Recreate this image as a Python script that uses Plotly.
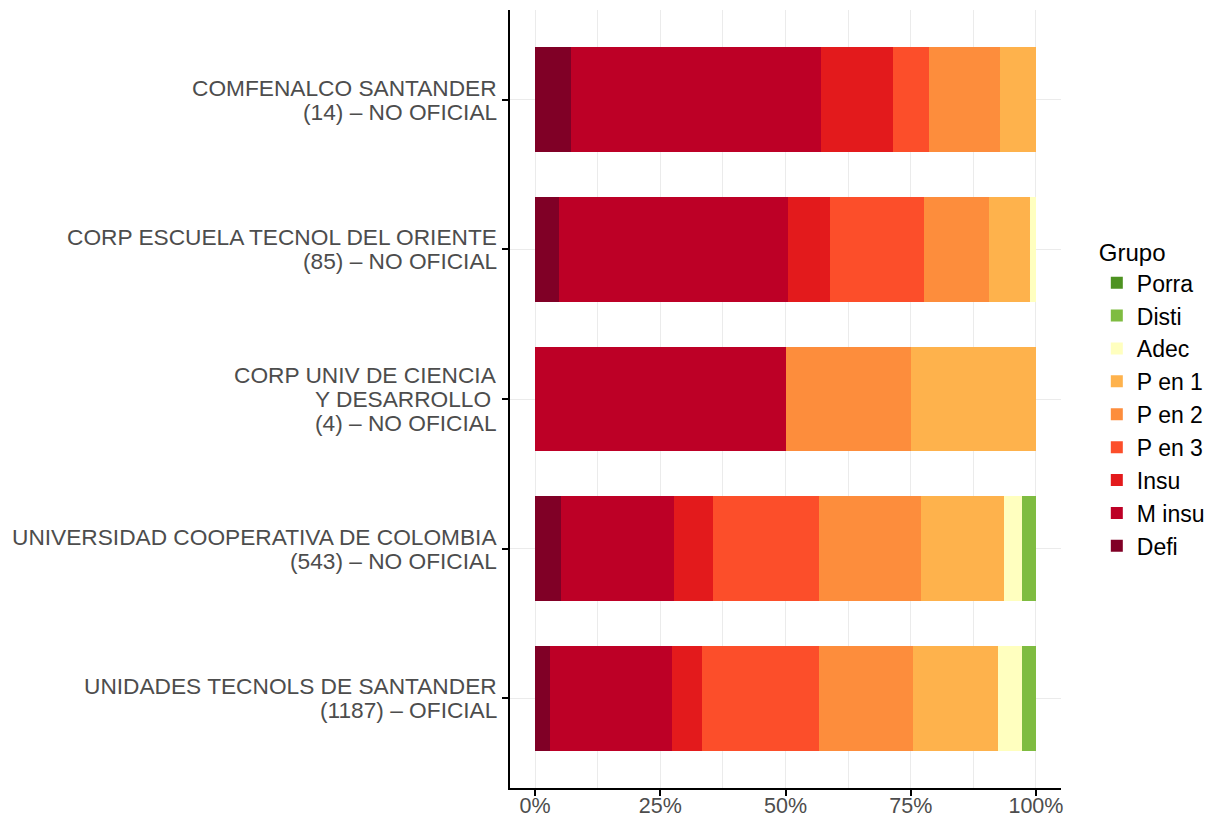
import plotly.graph_objects as go

categories = [
    "COMFENALCO SANTANDER<br>(14) – NO OFICIAL",
    "CORP ESCUELA TECNOL DEL ORIENTE<br>(85) – NO OFICIAL",
    "CORP UNIV DE CIENCIA<br>Y DESARROLLO\u00a0<br>(4) – NO OFICIAL",
    "UNIVERSIDAD COOPERATIVA DE COLOMBIA<br>(543) – NO OFICIAL",
    "UNIDADES TECNOLS DE SANTANDER<br>(1187) – OFICIAL",
]

groups = ["Defi", "M insu", "Insu", "P en 3", "P en 2", "P en 1", "Adec", "Disti", "Porra"]
colors = ["#800026", "#BD0026", "#E31A1C", "#FC4E2A", "#FD8D3C", "#FEB24C", "#FFFFBF", "#7FBC41", "#4D9221"]

# counts per group (same order as categories)
defi   = [1, 4, 0, 28, 36]
m_insu = [7, 39, 2, 123, 288]
insu   = [2, 7, 0, 42, 71]
p_en3  = [1, 16, 0, 115, 278]
p_en2  = [2, 11, 1, 110, 222]
p_en1  = [1, 7, 1, 90, 201]
adec   = [0, 1, 0, 20, 57]
disti  = [0, 0, 0, 15, 34]
porra  = [0, 0, 0, 0, 0]

x_tickvals = [0, 0.25, 0.5, 0.75, 1.0]
x_ticktext = ["0%", "25%", "50%", "75%", "100%"]

series = [defi, m_insu, insu, p_en3, p_en2, p_en1, adec, disti, porra]
totals = [sum(s[i] for s in series) for i in range(len(categories))]

fig = go.Figure()
for name, col, vals in zip(groups, colors, series):
    fig.add_trace(go.Bar(
        y=categories,
        x=[v / t for v, t in zip(vals, totals)],
        name=name,
        orientation="h",
        marker=dict(color=col, line=dict(width=0)),
        width=0.7,
    ))

font_family = "Liberation Sans, Arial, sans-serif"
axis_font = 22.7
line_gap = 24

# y category labels as annotations (tighter line spacing like the original)
annotations = []
for cat in categories:
    lines = cat.split("<br>")
    n = len(lines)
    for i, ln in enumerate(lines):
        annotations.append(dict(
            text=ln, xref="paper", x=0, xanchor="right", xshift=-11,
            yref="y", y=cat, yanchor="middle", yshift=((n - 1) / 2 - i) * line_gap,
            showarrow=False,
            font=dict(family=font_family, size=axis_font, color="#4D4D4D"),
        ))

fig.update_layout(
    barmode="stack",
    width=1216,
    height=818,
    paper_bgcolor="white",
    plot_bgcolor="white",
    margin=dict(l=510, r=155, t=10, b=30, autoexpand=False),
    font=dict(family=font_family, size=22, color="#000000"),
    legend=dict(
        title=dict(text="Grupo", font=dict(size=24, color="#000000")),
        traceorder="reversed",
        x=1.065, xanchor="left",
        y=0.5, yanchor="middle",
        font=dict(size=23, color="#000000"),
        tracegroupgap=0,
        bgcolor="rgba(0,0,0,0)",
    ),
    annotations=annotations,
)

fig.update_xaxes(
    range=[-0.05, 1.05],
    tickvals=x_tickvals,
    ticktext=x_ticktext,
    tickfont=dict(size=21.5, color="#4D4D4D"),
    showgrid=True, gridcolor="#EBEBEB", gridwidth=1.2,
    minor=dict(tickvals=[0.125, 0.375, 0.625, 0.875], showgrid=True, gridcolor="#EBEBEB", gridwidth=1.0),
    showline=True, linecolor="black", linewidth=2,
    ticks="outside", ticklen=6, tickwidth=2, tickcolor="black",
    ticklabelstandoff=-9,
    zeroline=False,
)

fig.update_yaxes(
    categoryorder="array",
    categoryarray=categories[::-1],
    range=[-0.6, 4.6],
    showticklabels=False,
    showgrid=True, gridcolor="#EBEBEB", gridwidth=1.2,
    showline=True, linecolor="black", linewidth=2,
    ticks="outside", ticklen=6, tickwidth=2, tickcolor="black",
    zeroline=False,
)

fig.write_html("out.html", config={"displayModeBar": False},
               post_script="document.body.style.margin='0';")
